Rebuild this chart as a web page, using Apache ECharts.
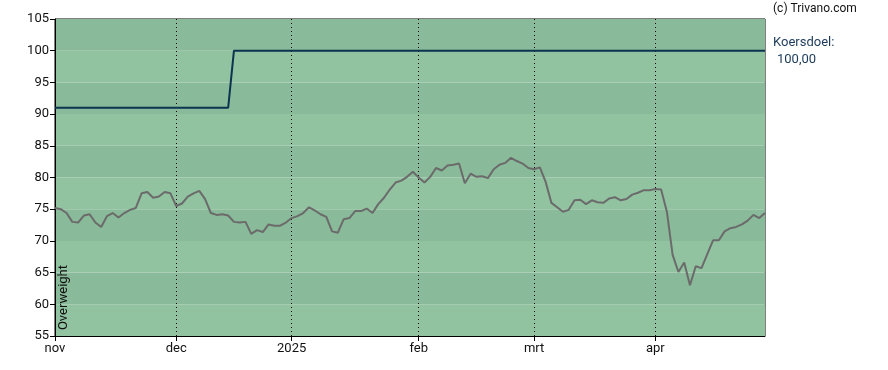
<!DOCTYPE html>
<html>
<head>
<meta charset="utf-8">
<script src="https://cdn.jsdelivr.net/npm/echarts@6/dist/echarts.min.js"></script>
<style>
html,body{margin:0;padding:0;background:#fff;}
#chart{width:888px;height:370px;}
</style>
</head>
<body>
<div id="chart"></div>
<script>
// Trading-day price series (Nov 2024 – Apr 2025)
const price = [
  75.2, 75.0, 74.4, 73.0, 72.9, 74.0, 74.2, 72.9, 72.2, 73.9,
  74.4, 73.7, 74.4, 74.9, 75.2, 77.5, 77.7, 76.8, 77.0, 77.7,
  77.5, 75.5, 75.9, 77.0, 77.5, 77.9, 76.6, 74.4, 74.1, 74.2,
  74.0, 73.0, 72.9, 73.0, 71.1, 71.7, 71.4, 72.6, 72.4, 72.4,
  72.9, 73.6, 73.9, 74.4, 75.3, 74.8, 74.2, 73.8, 71.5, 71.3,
  73.4, 73.6, 74.7, 74.7, 75.1, 74.4, 75.8, 76.8, 78.1, 79.2,
  79.5, 80.1, 80.9, 80.0, 79.2, 80.1, 81.5, 81.1, 81.9, 82.0,
  82.2, 79.1, 80.6, 80.1, 80.2, 79.9, 81.3, 82.0, 82.3, 83.1,
  82.6, 82.2, 81.5, 81.3, 81.6, 79.3, 76.0, 75.3, 74.6, 74.9,
  76.4, 76.5, 75.8, 76.4, 76.1, 76.0, 76.7, 76.9, 76.4, 76.6,
  77.3, 77.6, 78.0, 78.0, 78.2, 78.1, 74.6, 67.8, 65.1, 66.6,
  63.0, 66.0, 65.7, 67.9, 70.1, 70.1, 71.5, 72.0, 72.2, 72.6,
  73.2, 74.1, 73.6, 74.4
];
// Analyst target price (koersdoel) per trading day
const targetBefore = 91;
const targetAfter = 100;
const targetChangeIdx = 31;
const target = price.map((_, i) => i < targetChangeIdx ? targetBefore : targetAfter);

const categories = price.map((_, i) => i);
const tickIdx = [0, 21, 41, 63, 83, 104];
const tickLabels = ['nov', 'dec', '2025', 'feb', 'mrt', 'apr'];
const yTicks = [55, 60, 65, 70, 75, 80, 85, 90, 95, 100, 105];

const FONT = 'Roboto';
const chart = echarts.init(document.getElementById('chart'));
chart.setOption({
  animation: false,
  grid: {
    left: 55, right: 123, top: 19, bottom: 34,
    show: true, borderColor: '#000', borderWidth: 1, backgroundColor: 'transparent'
  },
  xAxis: {
    type: 'category',
    data: categories,
    boundaryGap: false,
    axisLine: { show: true, lineStyle: { color: '#000', width: 1 } },
    axisTick: {
      show: true, length: 5, lineStyle: { color: '#000' },
      interval: (i) => tickIdx.includes(i)
    },
    axisLabel: {
      interval: (i) => tickIdx.includes(i),
      formatter: (v) => { const k = tickIdx.indexOf(Number(v)); return k >= 0 ? tickLabels[k] : ''; },
      color: '#111', fontFamily: FONT, fontSize: 13, margin: 6
    },
    splitLine: {
      show: true,
      interval: (i) => tickIdx.includes(i) && i !== 0,
      lineStyle: { color: '#000', type: [1, 3], width: 1 }
    }
  },
  yAxis: {
    type: 'value',
    min: yTicks[0], max: yTicks[yTicks.length - 1], interval: 5,
    axisLine: { show: true, lineStyle: { color: '#000', width: 1 } },
    axisTick: { show: true, length: 5, lineStyle: { color: '#000' } },
    axisLabel: { color: '#111', fontFamily: FONT, fontSize: 13, margin: 6 },
    splitLine: { show: false },
    splitArea: { show: true, areaStyle: { color: ['rgb(145,195,161)', 'rgb(137,186,153)'] } }
  },
  series: [
    {
      name: 'Koersdoel', type: 'line', data: target, symbol: 'none',
      lineStyle: { color: '#0c3350', width: 2 }, z: 3
    },
    {
      name: 'Koers', type: 'line', data: price, symbol: 'none',
      lineStyle: { color: '#6b6b6b', width: 2 }, z: 4
    }
  ],
  graphic: [
    { type: 'text', left: 773, top: 3, style: { text: '(c) Trivano.com', fill: '#111', font: '12px ' + FONT } },
    { type: 'text', left: 773, top: 36, style: { text: 'Koersdoel:', fill: '#1b3a5a', font: '13px ' + FONT } },
    { type: 'text', left: 777, top: 53, style: { text: '100,00', fill: '#1b3a5a', font: '13px ' + FONT } },
    { type: 'text', left: 57, top: 265, rotation: Math.PI / 2, z: 100, style: { text: 'Overweight', fill: '#111', font: '13px ' + FONT } }
  ]
});
</script>
</body>
</html>
